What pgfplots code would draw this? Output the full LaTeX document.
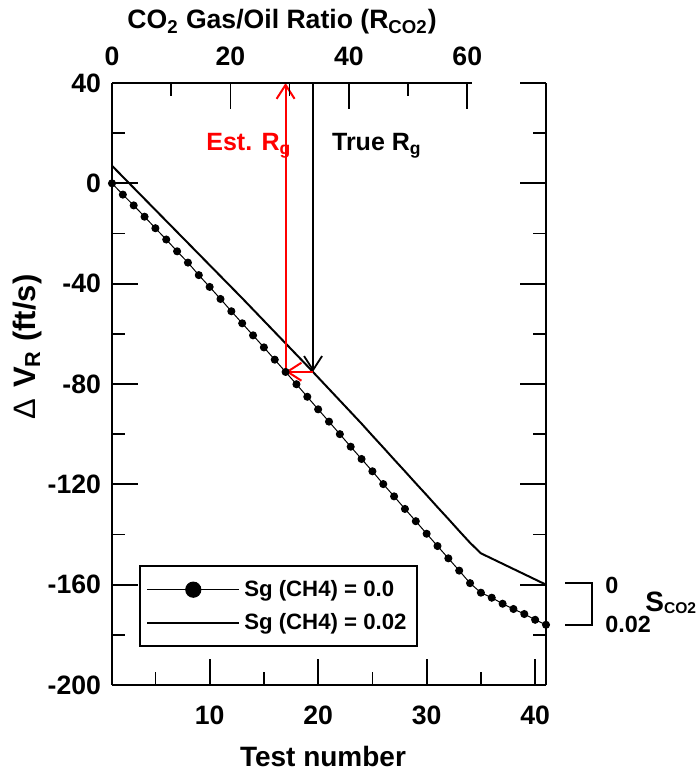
\documentclass[border=0pt]{standalone}
\usepackage{pgfplots}
\pgfplotsset{compat=1.18}
\usepackage{pgfplotstable}
\usepackage{fontspec}
\setmainfont{Liberation Sans}
\usetikzlibrary{arrows.meta}

\pgfplotstableread{
t v
1 0
2 -4.5
3 -8.8
4 -13.3
5 -17.9
6 -22.4
7 -27.1
8 -31.6
9 -36.6
10 -41.3
11 -46.1
12 -51.0
13 -55.8
14 -60.6
15 -65.4
16 -70.3
17 -75.2
18 -80.1
19 -85.1
20 -90.1
21 -95.0
22 -100.0
23 -105.0
24 -109.9
25 -114.8
26 -119.9
27 -124.8
28 -129.8
29 -134.7
30 -139.7
31 -144.6
32 -149.5
33 -154.4
34 -159.4
35 -163.2
36 -165.2
37 -167.6
38 -169.7
39 -171.7
40 -174.0
41 -176.0
}\sgzero

\pgfplotstableread{
t v
1 7.0
2 2.6
3 -1.8
4 -6.2
5 -10.6
6 -15.0
7 -19.4
8 -23.8
9 -28.2
10 -32.6
11 -37.0
12 -41.4
13 -45.8
14 -50.3
15 -54.8
16 -59.3
17 -63.8
18 -68.3
19 -72.8
20 -77.4
21 -82.0
22 -86.6
23 -91.2
24 -95.8
25 -100.6
26 -105.3
27 -110.1
28 -114.8
29 -119.6
30 -124.3
31 -129.1
32 -133.8
33 -138.6
34 -143.3
35 -147.5
41 -160.0
}\sgtwo

\begin{document}
\begin{tikzpicture}
\begin{axis}[
  at={(0,0)}, anchor=south west,
  width=217pt, height=301pt, scale only axis,
  xmin=1, xmax=41, ymin=-200, ymax=40,
  axis x line*=bottom, axis y line*=box,
  axis line style={line width=1pt},
  tick align=inside,
  major tick length=13pt, minor tick length=6.5pt,
  every tick/.style={black, line width=0.85pt},
  xtick={10,20,30,40}, minor xtick={5,15,25,35},
  ytick={-200,-160,...,40}, minor ytick={-180,-140,...,20},
  /pgf/number format/assume math mode=true,
  ticklabel style={font=\bfseries\fontsize{13.3}{15}\selectfont},
  yticklabel style={xshift=-2pt},
  xticklabel style={yshift=-7pt},
  clip=false,
  legend style={at={(0.0629,0.0626)}, anchor=south west, draw=black, line width=1pt,
    font=\bfseries\fontsize{11.1}{13}\selectfont, row sep=3pt, inner xsep=3pt, inner ysep=5pt},
  legend cell align=left,
]
\addplot[black, line width=0.5pt, mark=*, mark size=1.75pt, mark options={solid},
  legend image code/.code={\draw[black, line width=0.5pt] (0pt,0pt) -- (46pt,0pt); \fill[black] (23pt,0pt) circle (3.8pt);}]
  table[x=t, y=v] {\sgzero};
\addlegendentry{Sg (CH4) = 0.0}
\addplot[black, line width=1pt,
  legend image code/.code={\draw[black, line width=1pt] (0pt,0pt) -- (46pt,0pt);}]
  table[x=t, y=v] {\sgtwo};
\addlegendentry{Sg (CH4) = 0.02}

\addplot[forget plot, black, line width=0.6pt, -{Straight Barb[length=7pt,width=9pt,line width=0.9pt]}]
  coordinates {(19.53,40) (19.53,-75.1)};
\addplot[forget plot, red, line width=1.1pt, -{Straight Barb[length=7pt,width=9pt,line width=1pt]}]
  coordinates {(19.53,-75.1) (17,-75.1)};
\addplot[forget plot, red, line width=1.1pt, -{Straight Barb[length=7pt,width=9pt,line width=1pt]}]
  coordinates {(17,-75.1) (17,40)};
\end{axis}

\begin{axis}[
  at={(0,0)}, anchor=south west,
  width=180pt, height=301pt, scale only axis,
  xmin=0, xmax=60.8, ymin=-200, ymax=40,
  axis x line*=top, axis y line=none,
  axis line style={line width=1pt},
  tick align=inside,
  major tick length=13pt, minor tick length=6.5pt,
  every tick/.style={black, line width=0.85pt},
  xtick={0,20,40,60}, minor xtick={10,30,50},
  /pgf/number format/assume math mode=true,
  ticklabel style={font=\bfseries\fontsize{13.3}{15}\selectfont},
  xticklabel style={yshift=5pt},
]
\end{axis}

% annotations
\node[anchor=base west, text=red, font=\bfseries\fontsize{12.5}{15}\selectfont, inner sep=0pt] at (47pt,267.15pt) {Est. R\textsubscript{g}};
\node[anchor=base west, font=\bfseries\fontsize{12.5}{15}\selectfont, inner sep=0pt] at (109.85pt,267.15pt) {True R\textsubscript{g}};
\node[anchor=base, font=\bfseries\fontsize{13.3}{16}\selectfont, inner sep=0pt] at (85pt,328pt) {CO\textsubscript{2} Gas/Oil Ratio (R\textsubscript{CO2})};
\node[anchor=base, font=\bfseries\fontsize{14}{16}\selectfont, inner sep=0pt] at (105.5pt,-41pt) {Test number};
\node[rotate=90, font=\bfseries\fontsize{15.5}{18}\selectfont, inner sep=0pt] at (-42.5pt,169pt) {{\mdseries Δ}\hspace{0.35em}V\textsubscript{R} (ft/s)};
\draw[line width=1pt] (226.5pt,50.85pt) -- (240.15pt,50.85pt) -- (240.15pt,30pt) -- (226.5pt,30pt);
\node[anchor=west, font=\bfseries\fontsize{11.7}{14}\selectfont, inner sep=0pt] at (246.5pt,50pt) {0};
\node[anchor=base west, font=\bfseries\fontsize{11.7}{14}\selectfont, inner sep=0pt] at (246.5pt,26.15pt) {0.02};
\node[anchor=base west, font=\bfseries\fontsize{14}{16}\selectfont, inner sep=0pt] at (266.5pt,36.65pt) {S\raisebox{-1pt}{\fontsize{7.8}{9}\selectfont CO2}};

\pgfresetboundingbox
\path[use as bounding box] (-56pt,-43pt) rectangle (293pt,342.5pt);
\end{tikzpicture}
\end{document}
